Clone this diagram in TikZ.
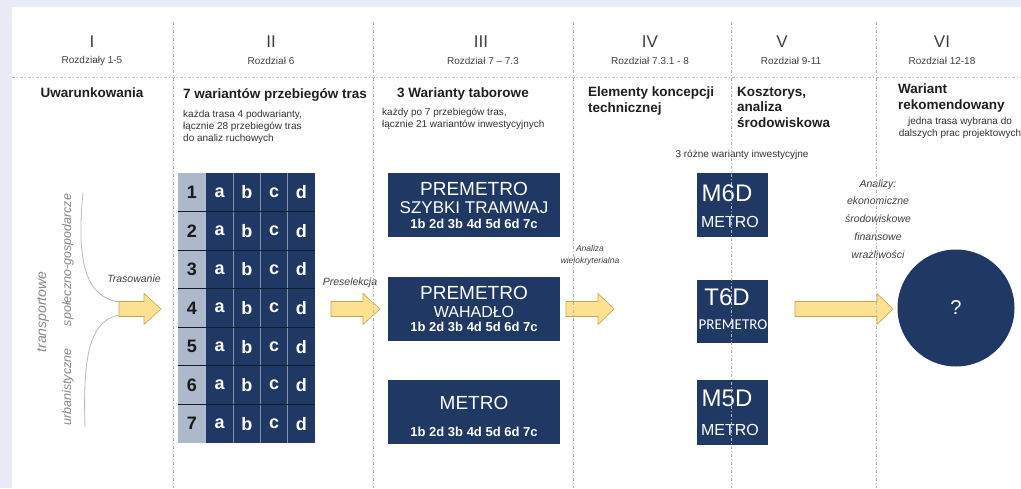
\documentclass[tikz,border=0pt]{standalone}
\usepackage{fontspec}
\setmainfont{Liberation Sans}
\newfontfamily\calfont{Carlito}
\usetikzlibrary{shapes.geometric}
\definecolor{navy}{RGB}{32,56,100}
\definecolor{lightcol}{RGB}{173,185,202}
\definecolor{bgcol}{RGB}{233,236,247}
\definecolor{yfill}{RGB}{255,226,145}
\definecolor{ydraw}{RGB}{196,165,80}
\definecolor{gridcol}{RGB}{185,185,185}
\definecolor{txtgrey}{RGB}{64,64,64}
\definecolor{sidegrey}{RGB}{135,135,135}
\definecolor{rowline}{RGB}{15,28,50}
\newcommand\setfs[1]{\fontsize{#1}{#1}\selectfont}
\newcommand\blockarrow[5]{%
  \draw[yarrow] (#1,{#4-7.5}) -- (#2,{#4-7.5}) -- (#2,{#4-15.5}) -- (#3,#4) -- (#2,{#4+15.5}) -- (#2,{#4+7.5}) -- (#1,{#4+7.5}) -- cycle;
  \coordinate (#5) at (#3,#4);}
\tikzset{
  gridline/.style={gridcol, line width=0.6pt, dash pattern=on 3pt off 2pt on 1pt off 2pt},
  yarrow/.style={fill=yfill, draw=ydraw, line width=0.6pt},
  roman/.style={text=txtgrey, font=\setfs{17}},
  chap/.style={text=txtgrey, font=\setfs{10}},
  ttl/.style={font=\bfseries\fontsize{13.5}{15.5}\selectfont, text=black!88, align=left, inner sep=0pt},
  sub/.style={font=\fontsize{10}{12}\selectfont, text=black!80, align=left, inner sep=0pt},
  lbl/.style={font=\itshape\setfs{10.5}, text=txtgrey, inner sep=0pt},
  side/.style={font=\itshape\setfs{12.5}, text=sidegrey, rotate=90, inner sep=0pt},
  navybox/.style={fill=navy, draw=none, inner sep=0pt},
  num/.style={font=\bfseries\setfs{18}, text=black!90, inner sep=0pt},
  let/.style={font=\bfseries\setfs{18}, text=white, inner sep=0pt},
  wt/.style={text=white, inner sep=0pt},
}
\begin{document}
\begin{tikzpicture}[x=1pt,y=-1pt]
\useasboundingbox (0,0) rectangle (1021,488);
\fill[bgcol] (0,0) rectangle (1021,488);
\fill[white] (12,7) rectangle (1021,488);

% headers
\node[roman] (r1) at (92,42) {I};
\node[roman] (r2) at (271,42) {II};
\node[roman] (r3) at (481,42) {III};
\node[roman] (r4) at (650,42) {IV};
\node[roman] (r5) at (782,42) {V};
\node[roman] (r6) at (942,42) {VI};
\node[chap] (c1) at (92,61) {Rozdziały 1-5};
\node[chap] (c2) at (271,61) {Rozdział 6};
\node[chap] (c3) at (483,61) {Rozdział 7 – 7.3};
\node[chap] (c4) at (650,61) {Rozdział 7.3.1 - 8};
\node[chap] (c5) at (791,61) {Rozdział 9-11};
\node[chap] (c6) at (942,61) {Rozdział 12-18};

% titles
\node[ttl, anchor=center] (t1) at (92,93) {Uwarunkowania};
\node[ttl, anchor=west] (t2) at (183,95) {7 wariantów przebiegów tras};
\node[sub, anchor=north west] (s2) at (183,110) {każda trasa 4 podwarianty,\\łącznie 28 przebiegów tras\\do analiz ruchowych};
\node[ttl, anchor=center] (t3) at (463,94) {3 Warianty taborowe};
\node[sub, anchor=north west] (s3) at (382,108) {każdy po 7 przebiegów tras,\\łącznie 21 wariantów inwestycyjnych};
\node[ttl, anchor=north west] (t4) at (588,87) {Elementy koncepcji\\technicznej};
\node[ttl, anchor=north west] (t5) at (737,87) {Kosztorys,\\analiza\\środowiskowa};
\node[ttl, anchor=north west] (t6) at (898,84) {Wariant\\rekomendowany};
\node[sub, anchor=north, align=center] (s6) at (960,117) {jedna trasa wybrana do\\dalszych prac projektowych};
\node[sub, anchor=center] (s5) at (742,155) {3 różne warianty inwestycyjne};

% left side
\draw[gridcol, line width=0.8pt] (83,193) .. controls (76,262) and (86,298) .. (120,302);
\draw[gridcol, line width=0.8pt] (120,315) .. controls (88,320) and (83,360) .. (85,427);
\node[side, font=\itshape\setfs{14}] (trans) at (43,312) {transportowe};
\node[side] (spol) at (68,260) {społeczno-gospodarcze};
\node[side] (urb) at (68,387) {urbanistyczne};
\node[lbl] (trasow) at (134,279) {Trasowanie};
\blockarrow{119}{144}{161}{309}{a1}

% table
\fill[lightcol] (178,173) rectangle (206,443);
\fill[navy] (206,173) rectangle (315,443);
\foreach \xx in {233.25,260.5,287.75}
  \draw[lightcol!70!navy, line width=0.8pt] (\xx,173) -- (\xx,443);
\foreach \r in {1,...,6}
  \draw[rowline, line width=0.9pt] (178,{173+\r*38.57}) -- (315,{173+\r*38.57});
\foreach \r in {1,...,7} {
  \pgfmathsetmacro\yc{173+(\r-0.5)*38.57}
  \node[num] (n\r) at (192,\yc) {\r};
  \node[let] (n\r a) at (219.6,\yc) {a};
  \node[let] (n\r b) at (246.9,\yc) {b};
  \node[let] (n\r c) at (274.1,\yc) {c};
  \node[let] (n\r d) at (301.4,\yc) {d};
}

\node[lbl] (presel) at (350,283) {Preselekcja};
\blockarrow{331}{363}{380}{309}{a2}

% column III boxes
\node[navybox, minimum width=172, minimum height=64] (b1) at (474,205) {};
\node[navybox, minimum width=172, minimum height=64] (b2) at (474,309) {};
\node[navybox, minimum width=172, minimum height=64] (b3) at (474,412) {};
\node[wt, font=\setfs{19}] (b1a) at (474,189) {PREMETRO};
\node[wt, font=\setfs{17}] (b1b) at (474,208) {SZYBKI TRAMWAJ};
\node[wt, font=\bfseries\setfs{13}] (b1c) at (474,224) {1b 2d 3b 4d 5d 6d 7c};
\node[wt, font=\setfs{19}] (b2a) at (474,293) {PREMETRO};
\node[wt, font=\setfs{16}] (b2b) at (474,312) {WAHADŁO};
\node[wt, font=\bfseries\setfs{13}] (b2c) at (474,327) {1b 2d 3b 4d 5d 6d 7c};
\node[wt, font=\setfs{19}] (b3a) at (474,403) {METRO};
\node[wt, font=\bfseries\setfs{13}] (b3c) at (474,432) {1b 2d 3b 4d 5d 6d 7c};

\node[lbl, font=\itshape\fontsize{8.5}{12}\selectfont, align=center] (anal) at (590,255) {Analiza\\wielokryterialna};
\blockarrow{566}{598}{614}{309}{a3}

% column V boxes
\node[navybox, minimum width=71, minimum height=64] (m6) at (732.5,205) {};
\node[navybox, minimum width=71, minimum height=63] (t6) at (732.5,311.5) {};
\node[navybox, minimum width=71, minimum height=65] (m5) at (732.5,412.5) {};
\node[wt, font=\setfs{24}] (m6a) at (727,193) {M6D};
\node[wt, font=\setfs{16}] (m6b) at (730,222) {METRO};
\node[wt, font=\setfs{24}] (t6a) at (727,297) {T6D};
\node[wt, font=\calfont\setfs{15}] (t6b) at (733,325) {PREMETRO};
\node[wt, font=\setfs{24}] (m5a) at (727,398) {M5D};
\node[wt, font=\setfs{16}] (m5b) at (730,430) {METRO};

\node[lbl, align=center, font=\itshape\fontsize{10.5}{17.8}\selectfont] (analizy) at (878,219) {Analizy:\\ekonomiczne\\środowiskowe\\finansowe\\wrażliwości};
\blockarrow{795}{877}{893}{309}{a4}

\node[circle, fill=navy, minimum size=117, inner sep=0pt, text=white, font=\setfs{20}] (res) at (956,308) {?};

% grid lines
\draw[gridline] (12,77) -- (1021,77);
\foreach \xx in {173,373,573,731,876}
  \draw[gridline] (\xx,22) -- (\xx,488);
\end{tikzpicture}
\end{document}
